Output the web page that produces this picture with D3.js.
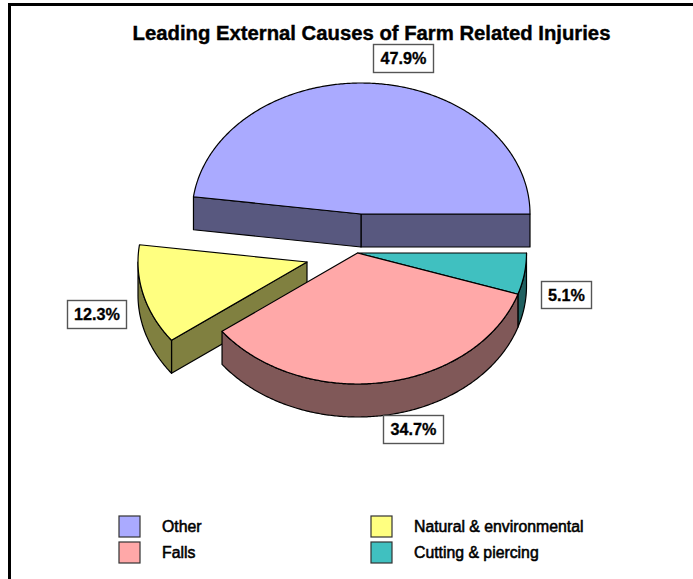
<!DOCTYPE html>
<html><head><meta charset="utf-8">
<style>html,body{margin:0;padding:0;background:#fff}svg{display:block}text{font-family:"Liberation Sans",Arial,sans-serif;fill:#000}</style>
<script src="https://cdn.jsdelivr.net/npm/d3@7"></script></head><body>
<svg id="c" width="693" height="579"></svg>
<script>
const titleText = "Leading External Causes of Farm Related Injuries";
const categories = ["Other","Natural & environmental","Falls","Cutting & piercing"];
const values = [47.9,12.3,34.7,5.1];
const topColors = ["#AAAAFF","#FFFF80","#FFA8A8","#40C0C0"];
const wallColors = ["#58587F","#808040","#805858","#206060"];
const labels = ["47.9%","12.3%","34.7%","5.1%"];
const legendOrder = [0,2,1,3];

const RX=169, RY=131, DEPTH=33;
const centers=[[361,214],[307,262],[357.5,253],[357.5,253]];
const labelBoxes=[[373,44,60,28],[67,300,59,28],[383,415,60,28],[541,281,50,27]];
const legendSlots=[[119,516],[119,542],[371,516],[371,542]];

const svg=d3.select("#c");
const sx=d3.scaleLinear().domain([-1,1]).range([-RX,RX]);
const sy=d3.scaleLinear().domain([-1,1]).range([-RY,RY]);
const pie=d3.pie().sort(null).startAngle(Math.PI/2).endAngle(Math.PI/2-2*Math.PI);
const arcs=pie(values);
const pt=(a,c,dz=0)=>[c[0]+sx(Math.sin(a)),c[1]+sy(-Math.cos(a))+dz];
const rim=(a0,a1,c,dz=0)=>{const n=Math.max(2,Math.ceil(Math.abs(a1-a0)/0.01));return d3.range(n+1).map(i=>pt(a0+(a1-a0)*i/n,c,dz));};
const line=d3.line();
const poly=p=>line(p)+"Z";
const stroke={stroke:"#000","stroke-width":1.2,"stroke-linejoin":"round"};
function draw(d,fill){const p=svg.append("path").attr("d",d).attr("fill",fill);Object.entries(stroke).forEach(([k,v])=>p.attr(k,v));}

[0,1,3,2].forEach(i=>{
  const a=arcs[i],c=centers[i],s=a.startAngle,e=a.endAngle,wall=wallColors[i];
  const S=pt(s,c),E=pt(e,c),down=p=>[p[0],p[1]+DEPTH];
  if(i===0){
    draw(poly([S,c,down(c),down(S)]),wall);
    draw(poly([E,c,down(c),down(E)]),wall);
  }
  if(i===1){
    draw(poly([E,c,down(c),down(E)]),wall);
    const lo=Math.min(s,e),hi=Math.max(s,e);
    const a0=Math.max(lo,-3*Math.PI/2),a1=Math.min(hi,-Math.PI/2);
    const r=rim(a1,a0,c);
    const br=rim(a0,a1,c,DEPTH);
    draw(poly(r.concat(br)),wall);
  }
  if(i===2||i===3){
    const r=rim(s,e,c),br=rim(e,s,c,DEPTH);
    draw(poly(r.concat(br)),wall);
  }
  draw(poly([c].concat(rim(s,e,c))),topColors[i]);
});

svg.append("text").attr("x",371.5).attr("y",40).attr("text-anchor","middle").style("font-size","20.3px").style("font-weight",700).attr("stroke","#000").attr("stroke-width",0.4).text(titleText);

labels.forEach((t,i)=>{
  const b=labelBoxes[i];
  svg.append("rect").attr("x",b[0]+.5).attr("y",b[1]+.5).attr("width",b[2]).attr("height",b[3]).attr("fill","#fff").attr("stroke","#555").attr("stroke-width",1.4);
  svg.append("text").attr("x",b[0]+b[2]/2+.5).attr("y",b[1]+20).attr("text-anchor","middle").style("font-size","16.2px").style("font-weight",700).attr("stroke","#000").attr("stroke-width",0.3).text(t);
});

legendOrder.forEach((idx,k)=>{
  const [x,y]=legendSlots[k];
  svg.append("rect").attr("x",x).attr("y",y).attr("width",21).attr("height",21).attr("fill",topColors[idx]).attr("stroke","#333").attr("stroke-width",1.2);
  svg.append("text").attr("x",x+43).attr("y",y+16).style("font-size","15.8px").style("font-weight",400).attr("stroke","#000").attr("stroke-width",0.55).text(categories[idx]);
});

svg.append("path").attr("d",d3.line()([[9.5,579],[9.5,4.5],[693,4.5]])).attr("fill","none").attr("stroke","#000").attr("stroke-width",3);
</script></body></html>
